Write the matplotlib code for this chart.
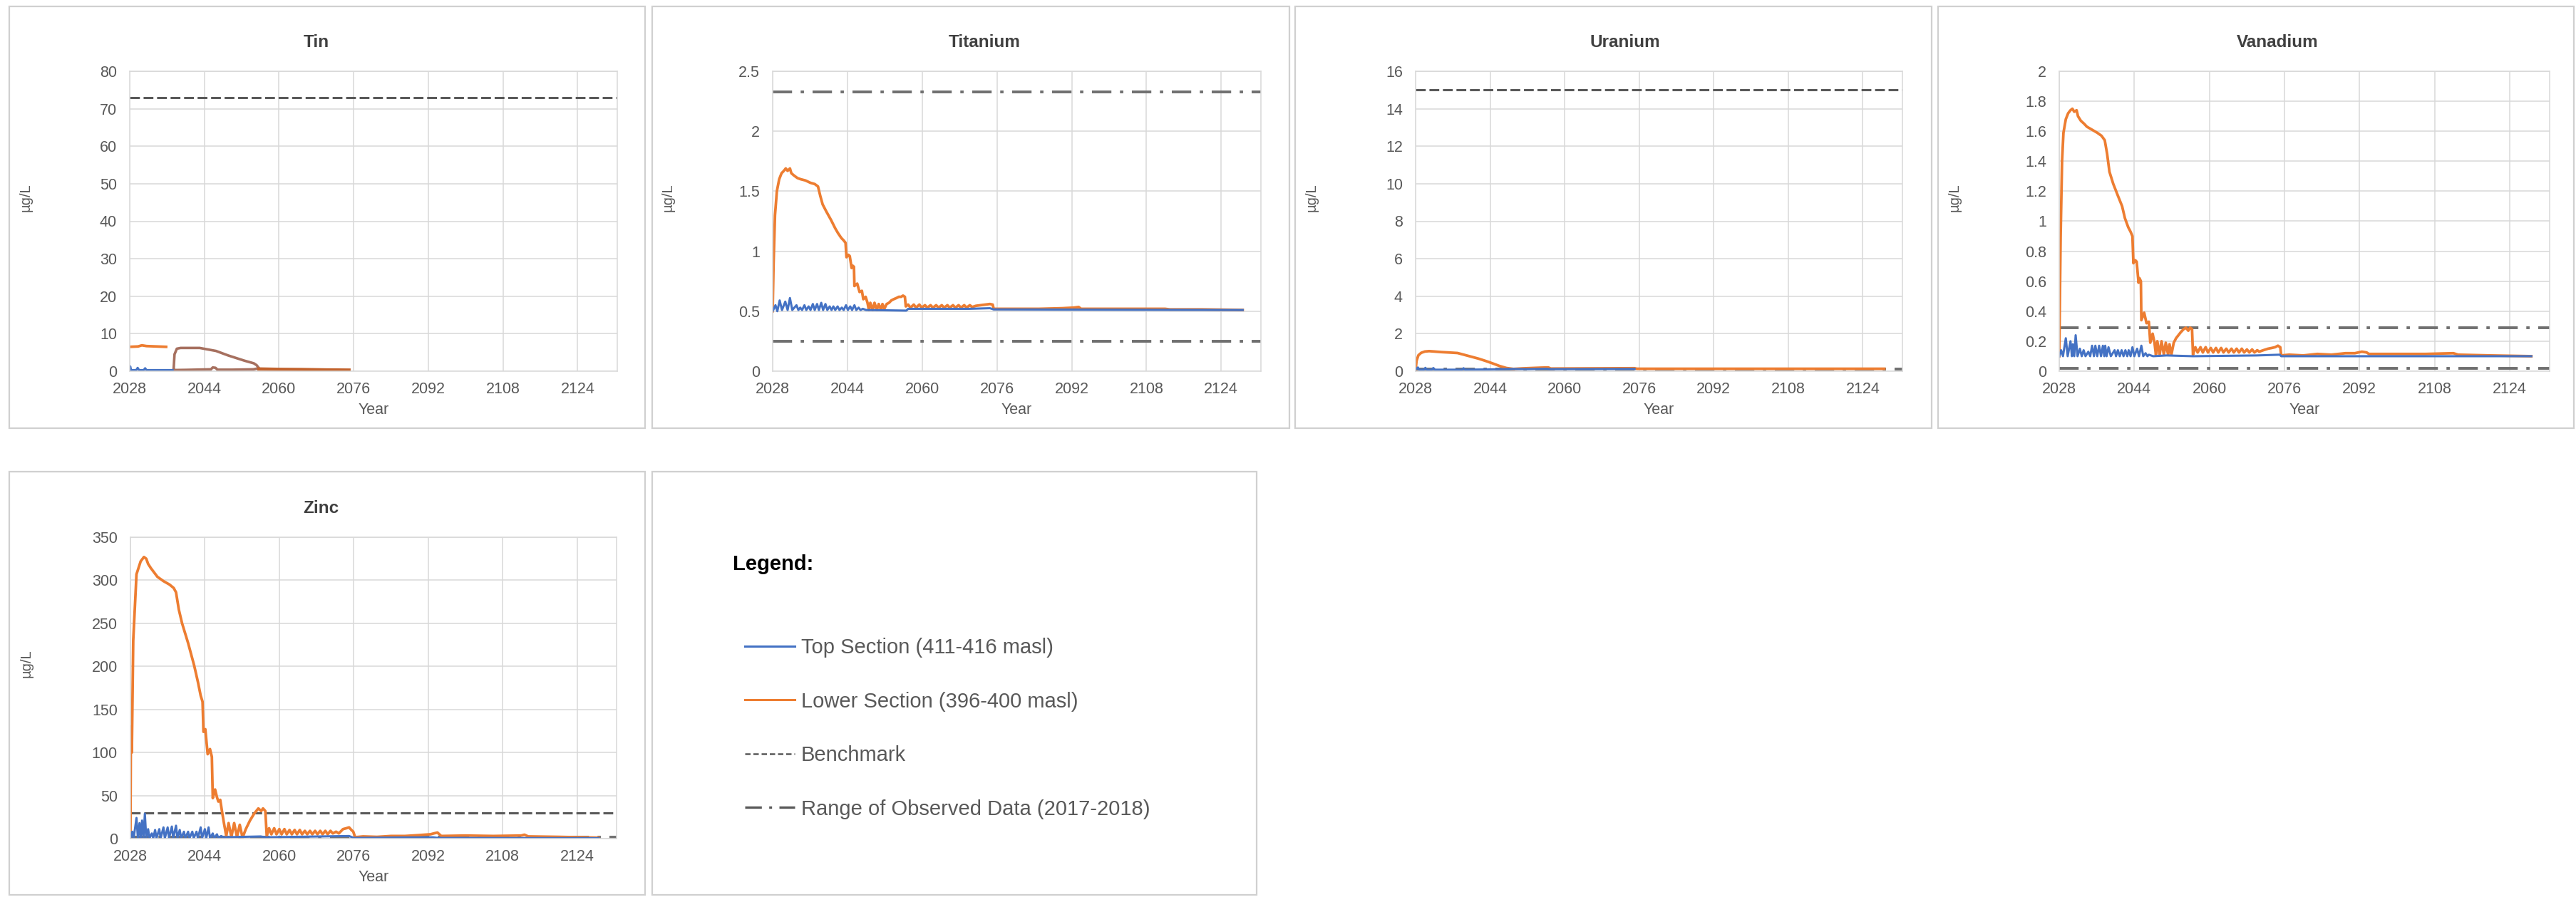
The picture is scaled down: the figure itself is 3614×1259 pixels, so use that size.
import matplotlib.pyplot as plt
from matplotlib.patches import Rectangle
from matplotlib.lines import Line2D
from matplotlib.ticker import FuncFormatter, MultipleLocator

plt.rcParams['font.family'] = ['Liberation Sans', 'DejaVu Sans']

W, H = 3614, 1259

# ---- data: (year, ug/L) read per element ----
elements = ['Tin', 'Titanium', 'Uranium', 'Vanadium', 'Zinc']
y_max = [80, 2.5, 16, 2, 350]
y_step = [10, 0.5, 2, 0.2, 50]
benchmark = [73, None, 15, None, 30]
obs_range = [[], [0.25, 2.33], [0.13], [0.02, 0.29], [1.5]]
year_ticks = [2028, 2044, 2060, 2076, 2092, 2108, 2124]

tin_top = [(2028.0, 0.3), (2028.1, 1.3), (2028.3, 0.3), (2029.4, 0.3), (2029.7, 0.9), (2030.0, 0.3),
           (2031.0, 0.3), (2031.3, 0.8), (2031.6, 0.3), (2037.2, 0.3)]
tin_low = [(2028.0, 6.5), (2029.8, 6.6), (2030.6, 6.9), (2031.6, 6.7), (2035.8, 6.5)]
tin_low_b = [(2037.4, 0.3), (2037.6, 4.5), (2038.1, 6.0), (2038.9, 6.2), (2043.0, 6.2), (2046.5, 5.4),
             (2049.1, 4.2), (2052.6, 2.8), (2054.6, 2.1), (2055.2, 1.6), (2055.7, 0.8), (2054.5, 0.5),
             (2050.0, 0.4), (2046.8, 0.4), (2046.4, 0.9), (2045.8, 1.0), (2045.4, 0.5), (2040.0, 0.35),
             (2037.4, 0.3)]
tin_low_c = [(2055.7, 0.6), (2060.0, 0.5), (2065.0, 0.45), (2070.0, 0.35), (2075.0, 0.3)]

ti_top = [(2028.0, 0.50), (2028.6, 0.55), (2029.0, 0.50), (2029.5, 0.59), (2030.0, 0.51), (2030.7, 0.58),
          (2031.2, 0.51), (2031.7, 0.61), (2032.2, 0.51), (2033.1, 0.55), (2033.5, 0.51), (2033.9, 0.53),
          (2034.3, 0.51), (2034.8, 0.55), (2035.2, 0.51), (2035.7, 0.54), (2036.1, 0.51), (2036.6, 0.56),
          (2037.0, 0.51), (2037.5, 0.56), (2037.9, 0.51), (2038.4, 0.57), (2038.8, 0.51), (2039.3, 0.56),
          (2039.7, 0.51), (2040.2, 0.54), (2040.6, 0.51), (2041.0, 0.54), (2041.4, 0.51), (2041.9, 0.54),
          (2042.3, 0.51), (2042.8, 0.53), (2043.2, 0.51), (2043.7, 0.55), (2044.1, 0.51), (2044.6, 0.54),
          (2045.0, 0.51), (2045.5, 0.55), (2045.9, 0.51), (2046.4, 0.53), (2046.8, 0.51), (2047.3, 0.52),
          (2048.0, 0.51), (2056.6, 0.505), (2057.0, 0.52), (2070.0, 0.52), (2074.5, 0.525),
          (2075.3, 0.515), (2128.6, 0.51)]
ti_low = [(2028.0, 0.50), (2028.2, 0.90), (2028.5, 1.30), (2028.9, 1.50), (2029.4, 1.60), (2029.9, 1.65),
          (2030.4, 1.67), (2030.8, 1.69), (2031.2, 1.67), (2031.7, 1.69), (2032.0, 1.65), (2032.6, 1.63),
          (2033.3, 1.61), (2034.0, 1.60), (2035.0, 1.59), (2036.1, 1.57), (2037.0, 1.56), (2037.7, 1.54),
          (2038.2, 1.46), (2038.7, 1.39), (2039.5, 1.33), (2040.5, 1.26), (2041.4, 1.19), (2042.0, 1.15),
          (2042.7, 1.11), (2043.2, 1.09), (2043.6, 1.07), (2043.8, 0.95), (2044.2, 0.97), (2044.5, 0.96),
          (2044.9, 0.86), (2045.1, 0.88), (2045.4, 0.87), (2045.5, 0.71), (2046.1, 0.73), (2046.6, 0.66),
          (2047.1, 0.67), (2047.4, 0.60), (2047.9, 0.62), (2048.3, 0.57), (2048.6, 0.51), (2048.9, 0.57),
          (2049.4, 0.51), (2049.8, 0.57), (2050.3, 0.51), (2050.7, 0.56), (2051.2, 0.51), (2051.5, 0.56),
          (2051.9, 0.52), (2052.4, 0.56), (2052.9, 0.57), (2053.4, 0.59), (2053.9, 0.60), (2054.5, 0.61),
          (2055.0, 0.62), (2055.5, 0.62), (2055.9, 0.63), (2056.3, 0.62), (2056.5, 0.54),
          (2057.0, 0.555), (2057.5, 0.53), (2058.2, 0.555), (2058.7, 0.53), (2059.4, 0.555), (2059.9, 0.53),
          (2060.6, 0.55), (2061.1, 0.53), (2061.8, 0.55), (2062.3, 0.53), (2063.0, 0.55), (2063.5, 0.53),
          (2064.2, 0.55), (2064.7, 0.53), (2065.4, 0.55), (2065.9, 0.53), (2066.6, 0.55), (2067.1, 0.53),
          (2067.8, 0.55), (2068.3, 0.53), (2069.0, 0.55), (2069.5, 0.53), (2070.2, 0.55), (2070.7, 0.535),
          (2071.5, 0.545), (2072.5, 0.55), (2073.5, 0.555), (2074.5, 0.56), (2075.1, 0.555), (2075.3, 0.52),
          (2080.0, 0.52), (2085.0, 0.52), (2090.0, 0.525), (2092.5, 0.53), (2093.5, 0.535), (2094.0, 0.52),
          (2100.0, 0.52), (2106.0, 0.52), (2112.0, 0.52), (2113.0, 0.515), (2120.0, 0.515), (2128.6, 0.51)]

u_top = [(2028.0, 0.08), (2028.5, 0.20), (2028.8, 0.08), (2029.8, 0.08), (2030.1, 0.18), (2030.4, 0.08),
         (2031.5, 0.08), (2031.8, 0.17), (2032.1, 0.08), (2038.0, 0.08), (2038.3, 0.16), (2038.6, 0.08),
         (2045.0, 0.10), (2048.0, 0.12), (2052.0, 0.11), (2056.0, 0.13), (2057.0, 0.11), (2075.0, 0.12)]
u_low = [(2028.0, 0.02), (2028.2, 0.55), (2028.6, 0.85), (2029.2, 0.98), (2030.0, 1.05), (2030.9, 1.07),
         (2032.0, 1.05), (2033.5, 1.02), (2035.0, 1.00), (2037.0, 0.97), (2038.5, 0.87), (2040.0, 0.77),
         (2041.5, 0.67), (2043.0, 0.55), (2044.5, 0.42), (2046.0, 0.28), (2047.5, 0.17), (2049.0, 0.12),
         (2051.0, 0.15), (2053.0, 0.17), (2055.0, 0.19), (2056.5, 0.20), (2057.0, 0.14), (2075.0, 0.16),
         (2075.5, 0.13), (2128.6, 0.13)]

v_top = [(2028.0, 0.10), (2028.4, 0.14), (2028.8, 0.10), (2029.4, 0.22), (2029.8, 0.10), (2030.4, 0.20),
         (2030.7, 0.10), (2030.9, 0.18), (2031.2, 0.10), (2031.5, 0.24), (2031.9, 0.10), (2032.4, 0.15),
         (2032.8, 0.10), (2033.2, 0.14), (2033.6, 0.10), (2034.2, 0.13), (2034.6, 0.10), (2035.0, 0.17),
         (2035.4, 0.10), (2035.7, 0.17), (2036.1, 0.10), (2036.5, 0.17), (2036.9, 0.10), (2037.3, 0.17),
         (2037.6, 0.10), (2037.8, 0.17), (2038.1, 0.10), (2038.5, 0.16), (2039.0, 0.10), (2039.8, 0.14),
         (2040.1, 0.10), (2040.5, 0.14), (2040.9, 0.10), (2041.3, 0.14), (2041.7, 0.10), (2042.1, 0.14),
         (2042.5, 0.10), (2042.8, 0.14), (2043.2, 0.10), (2043.6, 0.16), (2044.0, 0.10), (2044.6, 0.15),
         (2045.0, 0.10), (2045.5, 0.17), (2045.9, 0.10), (2046.4, 0.12), (2046.8, 0.10), (2047.1, 0.11),
         (2048.0, 0.10), (2050.9, 0.105), (2056.5, 0.10), (2070.0, 0.105), (2075.0, 0.11),
         (2075.3, 0.10), (2128.6, 0.10)]
v_low = [(2028.0, 0.10), (2028.3, 0.90), (2028.6, 1.40), (2028.9, 1.59), (2029.4, 1.68), (2029.9, 1.72),
         (2030.4, 1.74), (2030.8, 1.75), (2031.2, 1.73), (2031.7, 1.74), (2032.0, 1.70), (2032.6, 1.67),
         (2033.3, 1.65), (2033.9, 1.63), (2035.0, 1.61), (2036.1, 1.59), (2037.0, 1.57), (2037.7, 1.54),
         (2038.2, 1.45), (2038.7, 1.33), (2039.5, 1.25), (2040.5, 1.17), (2041.4, 1.10), (2042.0, 1.02),
         (2042.7, 0.96), (2043.2, 0.93), (2043.6, 0.90), (2043.8, 0.72), (2044.2, 0.74), (2044.5, 0.73),
         (2044.9, 0.59), (2045.1, 0.62), (2045.4, 0.60), (2045.5, 0.34), (2046.1, 0.39), (2046.6, 0.32),
         (2047.1, 0.33), (2047.4, 0.19), (2047.9, 0.25), (2048.3, 0.19), (2048.6, 0.11), (2048.9, 0.20),
         (2049.4, 0.11), (2049.8, 0.20), (2050.3, 0.11), (2050.7, 0.19), (2051.2, 0.11), (2051.5, 0.18),
         (2051.9, 0.11), (2052.4, 0.19), (2052.9, 0.22), (2053.4, 0.24), (2053.9, 0.26), (2054.5, 0.28),
         (2055.0, 0.29), (2055.5, 0.27), (2055.9, 0.29), (2056.3, 0.28), (2056.5, 0.11),
         (2057.0, 0.16), (2057.5, 0.125), (2058.1, 0.16), (2058.6, 0.125), (2059.2, 0.16), (2059.7, 0.125),
         (2060.3, 0.155), (2060.8, 0.125), (2061.4, 0.155), (2061.9, 0.125), (2062.5, 0.155), (2063.0, 0.125),
         (2063.6, 0.15), (2064.1, 0.125), (2064.7, 0.15), (2065.2, 0.125), (2065.8, 0.15), (2066.3, 0.125),
         (2066.9, 0.15), (2067.4, 0.125), (2068.0, 0.145), (2068.5, 0.125), (2069.1, 0.145), (2069.6, 0.125),
         (2070.2, 0.14), (2070.6, 0.13), (2071.5, 0.14), (2072.5, 0.15), (2073.3, 0.155), (2074.0, 0.16),
         (2074.6, 0.17), (2075.1, 0.16), (2075.3, 0.105), (2077.0, 0.11), (2080.0, 0.105), (2083.0, 0.115),
         (2086.0, 0.11), (2089.0, 0.12), (2091.0, 0.12), (2092.5, 0.13), (2093.5, 0.125), (2094.0, 0.115),
         (2100.0, 0.115), (2106.0, 0.115), (2112.0, 0.12), (2113.0, 0.11), (2120.0, 0.105), (2128.6, 0.10)]

zn_top = [(2028.0, 0.5), (2028.4, 8), (2028.7, 0.5), (2029.3, 24), (2029.6, 0.5), (2029.95, 18), (2030.2, 0.5),
          (2030.5, 21), (2030.8, 0.5), (2031.1, 29), (2031.4, 0.5), (2031.8, 11), (2032.1, 0.5), (2032.6, 6),
          (2032.9, 0.5), (2033.3, 10), (2033.6, 0.5), (2034.2, 11), (2034.5, 0.5), (2035.1, 13), (2035.4, 0.5),
          (2036.0, 13), (2036.3, 0.5), (2036.9, 14), (2037.2, 0.5), (2037.8, 15), (2038.1, 0.5), (2038.6, 10),
          (2038.9, 0.5), (2039.5, 8), (2039.8, 0.5), (2040.4, 8), (2040.7, 0.5), (2041.3, 8), (2041.6, 0.5),
          (2042.2, 8), (2042.5, 0.5), (2043.1, 13), (2043.4, 0.5), (2044.0, 11), (2044.3, 0.5), (2044.8, 13),
          (2045.1, 0.5), (2045.7, 6), (2046.0, 0.5), (2046.6, 5), (2046.9, 0.5), (2047.5, 3), (2048.0, 1.5),
          (2056.0, 2.5), (2057.0, 1.5), (2075.0, 3), (2076.0, 0.8), (2093.0, 1.5), (2094.0, 0.8), (2128.6, 0.5)]
zn_low = [(2028.0, 0), (2028.1, 130), (2028.3, 100), (2028.6, 230), (2029.3, 307), (2030.2, 322), (2030.9, 327),
          (2031.4, 325), (2031.8, 319), (2032.4, 314), (2033.8, 304), (2035.1, 299), (2036.4, 295), (2037.3, 291),
          (2037.8, 286), (2038.4, 266), (2039.1, 250), (2040.4, 227), (2041.7, 201), (2042.5, 182), (2043.1, 166),
          (2043.5, 159), (2043.7, 124), (2044.1, 127), (2044.6, 98), (2045.1, 104), (2045.5, 95), (2045.7, 47),
          (2046.2, 57), (2046.6, 48), (2046.9, 43), (2047.3, 45), (2047.7, 31), (2048.1, 18), (2048.6, 3),
          (2049.1, 18), (2049.7, 2), (2050.3, 18), (2050.9, 2), (2051.5, 16), (2052.1, 1), (2052.8, 11),
          (2053.7, 21), (2054.6, 29), (2055.5, 35), (2056.1, 32), (2056.5, 35), (2057.0, 32), (2057.3, 3),
          (2057.8, 12), (2058.3, 5), (2058.9, 12), (2059.4, 5), (2060.0, 11), (2060.5, 5), (2061.1, 11),
          (2061.6, 5), (2062.2, 10), (2062.7, 5), (2063.3, 10), (2063.8, 5), (2064.4, 10), (2064.9, 5),
          (2065.5, 9), (2066.0, 5), (2066.6, 9), (2067.1, 5), (2067.7, 9), (2068.2, 5), (2068.8, 9), (2069.3, 5),
          (2069.9, 9), (2070.4, 5), (2071.0, 9), (2071.5, 6), (2072.2, 8), (2072.8, 6), (2073.7, 11),
          (2074.4, 12), (2075.0, 13), (2075.5, 10), (2075.9, 8), (2076.3, 1.6), (2078.0, 2.5), (2081.0, 2),
          (2084.0, 3), (2087.0, 3), (2090.0, 4), (2092.5, 5), (2093.2, 6), (2094.0, 7), (2094.8, 3),
          (2100.0, 3.5), (2106.0, 3), (2112.0, 3.5), (2112.7, 4.5), (2113.5, 2.5), (2120.0, 2), (2128.6, 1)]

top_series = [tin_top, ti_top, u_top, v_top, zn_top]
low_series = [tin_low, ti_low, u_low, v_low, zn_low]

legend_labels = ['Top Section (411-416 masl)', 'Lower Section (396-400 masl)',
                 'Benchmark', 'Range of Observed Data (2017-2018)']

# ---- layout in pixels (left, top, right, bottom) ----
plot_boxes = [(182, 100, 866, 521), (1084, 100, 1769, 521), (1986, 100, 2669, 521),
              (2889, 100, 3577, 521), (183, 754, 865, 1177)]
frame_boxes = [(13, 9, 905, 601), (915, 9, 1809, 601), (1817, 9, 2710, 601),
               (2719, 9, 3611, 601), (13, 662, 905, 1256), (915, 662, 1763, 1256)]
title_pos = [(444, 60), (1381, 60), (2280, 60), (3195, 60), (450, 714)]

BLUE = '#4472C4'
ORANGE = '#ED7D31'
GREY = '#595959'
GRID = '#d9d9d9'
bench_style = dict(color=GREY, lw=2.2, dashes=(4.5, 1.7))
range_style = dict(color='#6f6f6f', lw=2.8, dashes=(7, 3.1, 1.2, 3.1))

fig = plt.figure(figsize=(W / 100, H / 100), dpi=100)
fig.patch.set_facecolor('white')

for l, t, r, b in frame_boxes:
    fig.add_artist(Rectangle((l / W, 1 - b / H), (r - l) / W, (b - t) / H,
                             transform=fig.transFigure, fill=False,
                             edgecolor='#d0d0d0', lw=1.6))


def split(pairs):
    xs, ys = zip(*pairs)
    return list(xs), list(ys)


for i, name in enumerate(elements):
    l, t, r, b = plot_boxes[i]
    ax = fig.add_axes([l / W, 1 - b / H, (r - l) / W, (b - t) / H])

    for v in obs_range[i]:
        ax.axhline(v, zorder=1.6, **range_style)
    if benchmark[i] is not None:
        ax.axhline(benchmark[i], zorder=1.6, **bench_style)

    x, y = split(low_series[i])
    ax.plot(x, y, color=ORANGE, lw=2.7, zorder=2.2)
    x, y = split(top_series[i])
    ax.plot(x, y, color=BLUE, lw=2.2, zorder=2.4)
    if name == 'Tin':
        x, y = split(tin_low_b)
        ax.plot(x, y, color='#a6705f', lw=2.6, zorder=2.3)
        x, y = split(tin_low_c)
        ax.plot(x, y, color='#c2622c', lw=3.3, zorder=2.3)

    ax.set_xlim(2028, 2132.5)
    ax.set_ylim(0, y_max[i])
    ax.set_xticks(year_ticks)
    ax.yaxis.set_major_locator(MultipleLocator(y_step[i]))
    ax.yaxis.set_major_formatter(FuncFormatter(lambda v, p: '{:g}'.format(round(v, 6))))
    ax.grid(True, color=GRID, lw=1.1)
    ax.set_axisbelow(True)
    for s in ax.spines.values():
        s.set_color(GRID)
        s.set_linewidth(1.1)
    ax.tick_params(length=0, labelsize=15.5, labelcolor=GREY)
    ax.tick_params(axis='x', pad=11)
    ax.tick_params(axis='y', pad=13)
    ax.set_xlabel('Year', fontsize=15.5, color=GREY)
    ax.xaxis.set_label_coords(0.5, -0.105)
    ax.set_ylabel('µg/L', fontsize=14.5, color=GREY)
    ax.yaxis.set_label_coords(-0.2, 0.58)

    tx, ty = title_pos[i]
    fig.text(tx / W, 1 - ty / H, name, fontsize=17.5, fontweight='bold',
             color='#404040', ha='center', va='center')

# legend panel
fig.text(1028 / W, 1 - 792 / H, 'Legend:', fontsize=21, fontweight='bold',
         color='black', ha='left', va='center')
handles = [Line2D([], [], color=BLUE, lw=2.2),
           Line2D([], [], color=ORANGE, lw=2.2),
           Line2D([], [], color=GREY, lw=1.8, dashes=(3, 1.6)),
           Line2D([], [], color=GREY, lw=2.4, dashes=(7, 3.1, 1.2, 3.1))]
fig.legend(handles, legend_labels, loc='upper left',
           bbox_to_anchor=(1045 / W, 1 - 895 / H), frameon=False,
           fontsize=21, labelcolor=GREY, handlelength=2.4, handletextpad=0.3,
           labelspacing=1.63, borderpad=0, borderaxespad=0)

fig.savefig('out.png', dpi=100, facecolor='white')
